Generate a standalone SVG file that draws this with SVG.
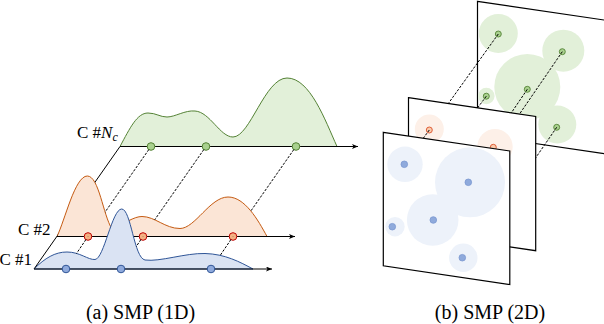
<svg xmlns="http://www.w3.org/2000/svg" xmlns:xlink="http://www.w3.org/1999/xlink" width="604" height="324" viewBox="0 0 604 324">
<style>
.lbl{font-family:"Liberation Serif","Times New Roman",serif;font-size:17px;fill:#000}
.cap{font-family:"Liberation Serif","Times New Roman",serif;font-size:20px;fill:#000;text-anchor:middle}
.axis{stroke:#000;stroke-width:1.2;fill:none;marker-end:url(#arr)}
.dash{stroke:#000;stroke-width:1;stroke-dasharray:2.5 1.5;fill:none}
.solid{stroke:#000;stroke-width:1;fill:none}
.gfill{fill:#e2f0d9;stroke:#548235;stroke-width:1}
.ofill{fill:#fbe5d6;stroke:#c55a11;stroke-width:1}
.bfill{fill:#dae3f3;stroke:#2f5597;stroke-width:1}
.gpt{fill:#a9d18e;stroke:#548235;stroke-width:1}
.opt{fill:#f4b183;stroke:#c00000;stroke-width:1}
.bpt{fill:#8faadc;stroke:#2f5597;stroke-width:1}
.plane{fill:#fff;stroke:#000;stroke-width:1.2}
.gc{fill:#e2f0d9}
.oc{fill:#fdf0e8}
.bc{fill:#edf2fa}
.gpt2{fill:#a9d18e;stroke:#548235;stroke-width:0.9}
.opt2{fill:#f8cbad;stroke:#e0603a;stroke-width:1}
.bpt2{fill:#8faadc;stroke:#7b98d0;stroke-width:0.8}
</style>
<defs>
<marker id="arr" markerUnits="userSpaceOnUse" markerWidth="8" markerHeight="6" refX="6" refY="2.5" orient="auto">
<path d="M0,0 L6,2.5 L0,5 L1.5,2.5 z" fill="#000"/>
</marker>
<path id="gPath" d="M120,146.5 C130,128 137,113 148,113 C156,113 160,117 167,117 C175,117 185,110 195,111 C210,112 220,137 233,137 C250,137 265,78 287,78 C310,78 325,120 337,146.5 Z"/>
<path id="oPath" d="M57,236.5 C65,220 75,176 87.3,176 C99,176 103,215 112,229 C116,233 122,224 128,221 C134,218 138,216.5 142,216.5 C155,216.5 165,228.5 180,228.5 C195,228.5 210,197 228,197 C245,197 258,220 267,236.5 Z"/>
<path id="bPath" d="M34,269 C45,258 55,252 67,252 C80,252 88,260 95,259.5 C104,259 112,209 121.7,209 C131,209 134,258 145,260 C160,262 185,253 205,253.5 C225,254 240,262 253,269 Z"/>
<polygon id="frontPoly" points="383.3,132.3 509.8,151 509.8,284.5 383.3,265.8"/>
<polygon id="midPoly" points="408.5,97.7 535.7,116.5 535.7,250.7 408.5,231.9"/>
<mask id="maskLeft" maskUnits="userSpaceOnUse" x="0" y="0" width="604" height="324">
<rect x="0" y="0" width="604" height="324" fill="#fff"/>
<use href="#oPath" fill="#000"/>
<use href="#bPath" fill="#000"/>
</mask>
<mask id="maskBack" maskUnits="userSpaceOnUse" x="0" y="0" width="604" height="324">
<rect x="0" y="0" width="604" height="324" fill="#fff"/>
<use href="#midPoly" fill="#000"/>
<use href="#frontPoly" fill="#000"/>
</mask>
<mask id="maskMid" maskUnits="userSpaceOnUse" x="0" y="0" width="604" height="324">
<rect x="0" y="0" width="604" height="324" fill="#fff"/>
<use href="#frontPoly" fill="#000"/>
</mask>
</defs>
<rect x="0" y="0" width="604" height="324" fill="#fff"/>

<!-- (a) 1D -->
<g id="channel-Nc">
<use href="#gPath" class="gfill"/>
<line class="axis" x1="120" y1="146.5" x2="358" y2="146.5"/>
<circle class="gpt" cx="151" cy="146.5" r="3.8"/>
<circle class="gpt" cx="206" cy="146.5" r="3.8"/>
<circle class="gpt" cx="296" cy="146.5" r="3.8"/>
<text class="lbl" x="77" y="137.5">C #<tspan font-style="italic">N</tspan><tspan font-style="italic" font-size="12" dy="3">c</tspan></text>
</g>
<g id="channel-2">
<use href="#oPath" class="ofill"/>
<line class="axis" x1="57" y1="236.5" x2="295" y2="236.5"/>
<circle class="opt" cx="88" cy="236.5" r="3.8"/>
<circle class="opt" cx="143" cy="236.5" r="3.8"/>
<circle class="opt" cx="233" cy="236.5" r="3.8"/>
<text class="lbl" x="50.5" y="235" text-anchor="end">C #2</text>
</g>
<g id="channel-1">
<use href="#bPath" class="bfill"/>
<line class="axis" x1="34" y1="269" x2="272" y2="269"/>
<circle class="bpt" cx="66" cy="269" r="3.8"/>
<circle class="bpt" cx="121" cy="269" r="3.8"/>
<circle class="bpt" cx="211" cy="269" r="3.8"/>
<text class="lbl" x="32" y="264.5" text-anchor="end">C #1</text>
</g>

<!-- (b) 2D -->
<g id="plane-Nc">
<polygon class="plane" points="477.5,1.3 606,20.3 606,154 477.5,135"/>
<circle class="gc" cx="498.3" cy="33.5" r="19.5"/>
<circle class="gc" cx="563.3" cy="50.7" r="21"/>
<circle class="gc" cx="527.3" cy="87" r="33"/>
<circle class="gc" cx="486.3" cy="96" r="8.3"/>
<circle class="gc" cx="557.3" cy="124.5" r="19"/>
<circle class="gpt2" cx="498.3" cy="34" r="3"/>
<circle class="gpt2" cx="562.3" cy="51.7" r="3"/>
<circle class="gpt2" cx="527.3" cy="89.3" r="3"/>
<circle class="gpt2" cx="486.3" cy="96.2" r="3"/>
<circle class="gpt2" cx="556.7" cy="127.3" r="3"/>
</g>
<g id="plane-2">
<use href="#midPoly" class="plane"/>
<circle class="oc" cx="429.3" cy="129" r="14.5"/>
<circle class="oc" cx="495" cy="146.7" r="17.7"/>
<circle class="opt2" cx="429.3" cy="130" r="3"/>
<circle class="opt2" cx="493.3" cy="147.3" r="3"/>
</g>
<g id="plane-1">
<use href="#frontPoly" class="plane"/>
<circle class="bc" cx="405" cy="164.3" r="17.7"/>
<circle class="bc" cx="470" cy="182.3" r="35"/>
<circle class="bc" cx="432.7" cy="220" r="25.8"/>
<circle class="bc" cx="395" cy="226.7" r="9.7"/>
<circle class="bc" cx="463.3" cy="257.7" r="14.2"/>
<circle class="bpt2" cx="404.3" cy="164.3" r="3.3"/>
<circle class="bpt2" cx="468.3" cy="182.3" r="3.3"/>
<circle class="bpt2" cx="433.3" cy="220" r="3.3"/>
<circle class="bpt2" cx="392.3" cy="226.7" r="3.3"/>
<circle class="bpt2" cx="462.3" cy="257.7" r="3.3"/>
</g>

<g id="connectors">
<g mask="url(#maskLeft)">
<line class="solid" x1="34" y1="269" x2="120" y2="146.5"/>
<line class="dash" x1="148.8" y1="149.6" x2="88" y2="236.5"/>
<line class="dash" x1="85.9" y1="239.6" x2="66" y2="269"/>
<line class="dash" x1="203.8" y1="149.6" x2="143" y2="236.5"/>
<line class="dash" x1="140.9" y1="239.6" x2="121" y2="269"/>
<line class="dash" x1="293.8" y1="149.6" x2="233" y2="236.5"/>
<line class="dash" x1="230.9" y1="239.6" x2="211" y2="269"/>
</g>
<g mask="url(#maskBack)">
<line class="dash" x1="498.3" y1="34" x2="429.3" y2="130"/>
<line class="dash" x1="486.3" y1="96.2" x2="470" y2="118.1"/>
<line class="dash" x1="527.3" y1="89.3" x2="500" y2="129.5"/>
<line class="dash" x1="562.3" y1="51.7" x2="510" y2="127.9"/>
<line class="dash" x1="556.7" y1="127.3" x2="525" y2="173.3"/>
</g>
<g mask="url(#maskMid)">
<line class="dash" x1="429.3" y1="130" x2="404.3" y2="164.3"/>
</g>
</g>

<text class="cap" x="140.5" y="318.5">(a) SMP (1D)</text>
<text class="cap" x="490" y="318.5">(b) SMP (2D)</text>
</svg>
